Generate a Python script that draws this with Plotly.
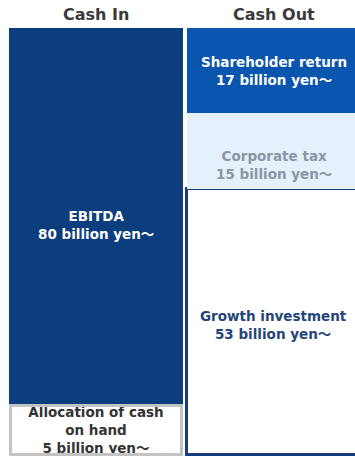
import plotly.graph_objects as go

# Cash flow allocation: sources (Cash In) vs. uses (Cash Out), in billion yen
columns = ["Cash In", "Cash Out"]

in_items = ["Allocation of cash<br>on hand", "EBITDA"]          # bottom -> top
in_values = [5, 80]

out_items = ["Growth investment", "Corporate tax", "Shareholder return"]  # bottom -> top
out_values = [53, 15, 17]

unit = "billion yen～"

FONT = "DejaVu Sans, Noto Sans CJK JP, sans-serif"
NAVY = "#0c3e7e"
BLUE = "#0a55ae"
PALE = "#e4f0fa"
BORDER_NAVY = "#163f79"
GRAY_BORDER = "#c3c3c3"

in_fill = ["#ffffff", NAVY]
in_line = ["#ffffff", NAVY]
in_text = ["#333333", "#ffffff"]

out_fill = ["#ffffff", PALE, BLUE]
out_line = [BORDER_NAVY, PALE, BLUE]
out_text = ["#24457a", "#8b96a6", "#ffffff"]

BAR_W = 0.9775
LABEL_SIZE = 13.5

fig = go.Figure()


def add_stack(col, items, values, fills, lines, widths):
    for name, v, fc, lc, lw in zip(items, values, fills, lines, widths):
        fig.add_trace(go.Bar(
            x=[col], y=[v], width=BAR_W, name=name.replace("<br>", " "),
            marker=dict(color=fc, line=dict(color=lc, width=lw)),
            hoverinfo="skip", showlegend=False,
        ))


add_stack(columns[0], in_items, in_values, in_fill, in_line, [0, 0])
add_stack(columns[1], out_items, out_values, out_fill, out_line, [3, 0, 0])

annotations = []

# segment labels for the Cash In column
base = 0
for i, (name, v) in enumerate(zip(in_items, in_values)):
    mid = base + v / 2
    text = f"<b>{name}<br>{v} {unit}</b>"
    if i == 0:
        # framed label box sitting on the base of the column
        annotations.append(dict(
            x=columns[0], y=0, xref="x", yref="y", yanchor="bottom",
            text=text, showarrow=False, align="center",
            font=dict(family=FONT, size=LABEL_SIZE, color=in_text[i]),
            bgcolor="#ffffff", bordercolor=GRAY_BORDER, borderwidth=3,
            borderpad=0, width=168, height=46, valign="middle", yshift=-1,
        ))
    else:
        annotations.append(dict(
            x=columns[0], y=mid, xref="x", yref="y", text=text,
            showarrow=False, align="center",
            font=dict(family=FONT, size=LABEL_SIZE, color=in_text[i]), yshift=4,
        ))
    base += v

# segment labels for the Cash Out column
base = 0
shifts = [-3, -14, 0]
for i, (name, v) in enumerate(zip(out_items, out_values)):
    mid = base + v / 2
    annotations.append(dict(
        x=columns[1], y=mid, xref="x", yref="y",
        text=f"<b>{name}<br>{v} {unit}</b>",
        showarrow=False, align="center",
        font=dict(family=FONT, size=LABEL_SIZE, color=out_text[i]),
        yshift=shifts[i],
    ))
    base += v

# column headers
for col in columns:
    annotations.append(dict(
        x=col, y=1, xref="x", yref="paper", yanchor="top", yshift=-3,
        text=f"<b>{col}</b>", showarrow=False,
        font=dict(family=FONT, size=16, color="#3a3a3a"),
    ))

fig.update_layout(
    width=355, height=457,
    margin=dict(l=0, r=0, t=0, b=0),
    barmode="stack",
    plot_bgcolor="#ffffff", paper_bgcolor="#ffffff",
    xaxis=dict(type="category", range=[-0.539, 1.455], visible=False,
               fixedrange=True),
    yaxis=dict(range=[-0.4, 90.57], visible=False, fixedrange=True),
    annotations=annotations,
)

fig.write_html("out.html")
